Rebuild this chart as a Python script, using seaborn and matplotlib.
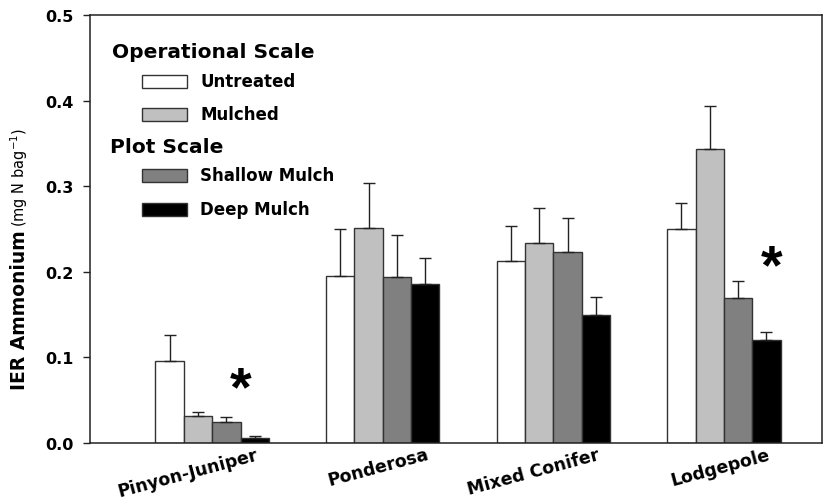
import numpy as np
import pandas as pd
import matplotlib
matplotlib.use("Agg")
import matplotlib.pyplot as plt
from matplotlib.patches import Rectangle
from matplotlib.transforms import ScaledTranslation
import seaborn as sns

forests = ["Pinyon-Juniper", "Ponderosa", "Mixed Conifer", "Lodgepole"]
treatments = ["Untreated", "Mulched", "Shallow Mulch", "Deep Mulch"]
untreated = [0.096, 0.195, 0.213, 0.250]
mulched = [0.031, 0.251, 0.234, 0.344]
shallow = [0.024, 0.194, 0.223, 0.169]
deep = [0.006, 0.186, 0.150, 0.120]
untreated_se = [0.030, 0.055, 0.040, 0.030]
mulched_se = [0.0056, 0.053, 0.040, 0.050]
shallow_se = [0.006, 0.049, 0.040, 0.020]
deep_se = [0.0025, 0.030, 0.021, 0.010]
yticks = [0.0, 0.1, 0.2, 0.3, 0.4, 0.5]
star_forests = ["Pinyon-Juniper", "Lodgepole"]

colors = ["#ffffff", "#c0c0c0", "#808080", "#000000"]

means = [untreated, mulched, shallow, deep]
ses = [untreated_se, mulched_se, shallow_se, deep_se]
rows = []
for t, m, s in zip(treatments, means, ses):
    for f, v, e in zip(forests, m, s):
        rows.append({"Forest": f, "Treatment": t, "value": v, "se": e})
df = pd.DataFrame(rows)

sns.set_style("white")
plt.rcParams['font.family'] = ['DejaVu Sans']
plt.rcParams['font.weight'] = 'bold'
plt.rcParams['text.color'] = 'black'
plt.rcParams['xtick.color'] = 'black'
plt.rcParams['ytick.color'] = 'black'
plt.rcParams['xtick.labelcolor'] = 'black'
plt.rcParams['ytick.labelcolor'] = 'black'

fig = plt.figure(figsize=(8.25, 5.02), dpi=100)
W, H = 825, 502
ax_l, ax_r, ax_t, ax_b = 90, 822, 16, 444
ax = fig.add_axes([ax_l / W, 1 - ax_b / H, (ax_r - ax_l) / W, (ax_b - ax_t) / H])

sns.barplot(data=df, x="Forest", y="value", hue="Treatment", order=forests,
            hue_order=treatments, palette=colors, errorbar=None, width=0.665,
            gap=0, edgecolor="#333333", linewidth=1.0, ax=ax, legend=False,
            saturation=1)

# error bars (upper only) from bar patches
bars = [p for p in ax.patches if isinstance(p, Rectangle)][:16]
k = 0
for ti, t in enumerate(treatments):
    for fi, f in enumerate(forests):
        p = bars[k]
        k += 1
        xc = p.get_x() + p.get_width() / 2
        ax.errorbar([xc], [means[ti][fi]], yerr=[[0], [ses[ti][fi]]], fmt='none',
                    ecolor="#222222", elinewidth=1.0, capsize=4.2, capthick=1.0,
                    zorder=1)

ax.set_xlim(-0.716, 3.575)
ax.set_ylim(0, 0.5)
ax.set_yticks(yticks)
ax.set_yticklabels([f"{v:.1f}" for v in yticks], fontsize=11.5, fontweight='bold')
ax.tick_params(axis='y', direction='out', length=5, width=1, left=True, pad=7,
               color="#222222")
ax.tick_params(axis='x', length=0, pad=1.5)
ax.set_xticks(range(len(forests)))
ax.set_xticklabels(forests, fontsize=12.5, fontweight='bold', rotation=15,
                   ha='right', va='top', rotation_mode='anchor')
off = ScaledTranslation(0.43, 0, fig.dpi_scale_trans)
for lab in ax.get_xticklabels():
    lab.set_transform(lab.get_transform() + off)
ax.set_xlabel("")
ax.set_ylabel("")
for s in ax.spines.values():
    s.set_visible(True)
    s.set_color("#222222")
    s.set_linewidth(1.1)

# y label (two parts)
t1 = fig.text(25 / W, 1 - 390 / H, "IER Ammonium", rotation=90, rotation_mode='anchor',
              ha='left', va='baseline', fontsize=13.5, fontweight='bold')
fig.canvas.draw()
bb = t1.get_window_extent(fig.canvas.get_renderer())
t2_y = (bb.y1 + 3) / H
fig.text(25 / W, t2_y, r"(mg N bag$^{\mathregular{-1}}$)", rotation=90,
         rotation_mode='anchor', ha='left', va='baseline', fontsize=10.5,
         fontweight='normal')

# significance stars
star_x = {"Pinyon-Juniper": 0.166, "Lodgepole": 3.28}
star_y = {"Pinyon-Juniper": 0.062, "Lodgepole": 0.204}
for f in star_forests:
    ax.text(star_x[f], star_y[f], "*", fontsize=40, fontweight='bold',
            family='Liberation Sans', ha='center', va='center', color='black')

# legend (manual)
def px(x, y):
    return x / W, 1 - y / H

fig.text(*px(112, 52), "Operational Scale", fontsize=14.5, fontweight='bold',
         ha='left', va='center')
fig.text(*px(110, 148), "Plot Scale", fontsize=14.5, fontweight='bold',
         ha='left', va='center')
entry_y = [82, 115, 176, 210]
for t, c, yy in zip(treatments, colors, entry_y):
    fig.patches.append(Rectangle((142 / W, 1 - (yy + 6.5) / H), 45 / W, 13 / H,
                                 transform=fig.transFigure, facecolor=c,
                                 edgecolor="#333333", linewidth=1.0))
    fig.text(*px(200, yy), t, fontsize=12, fontweight='bold', ha='left',
             va='center')

fig.savefig("out.png", dpi=100)
